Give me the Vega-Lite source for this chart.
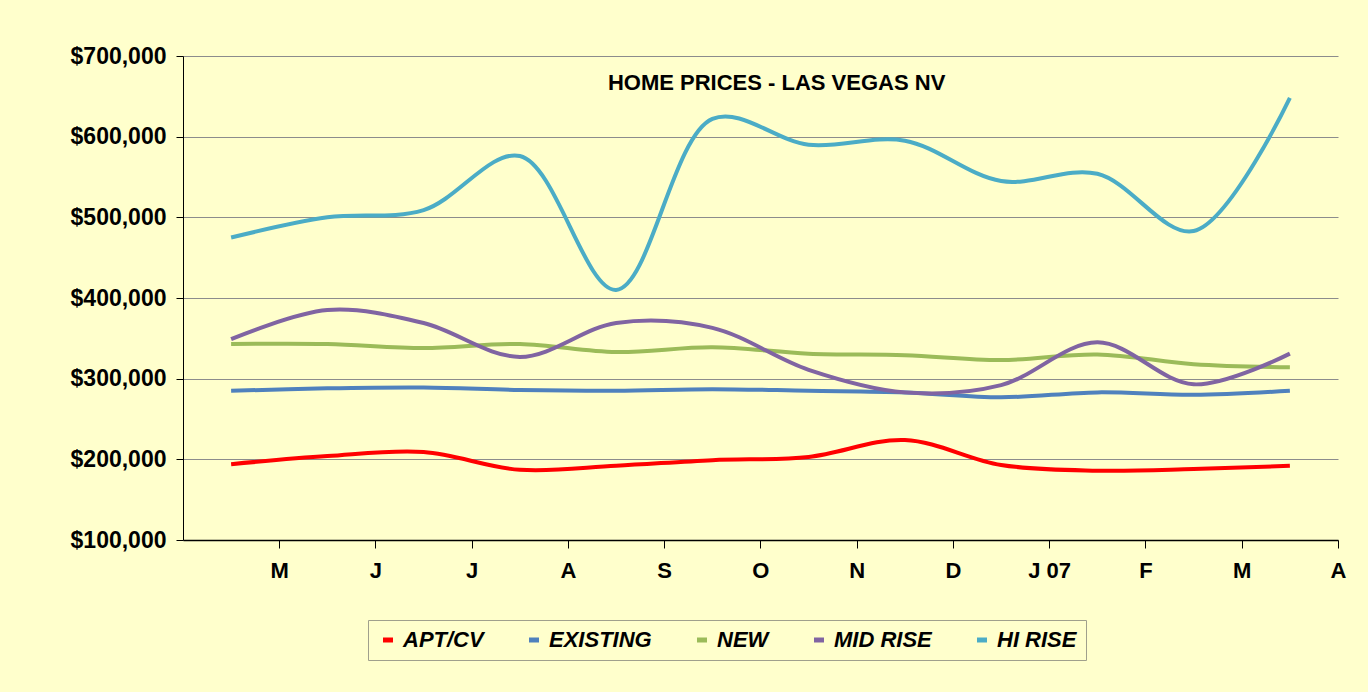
{
  "$schema": "https://vega.github.io/schema/vega-lite/v6.json",
  "width": 1155,
  "height": 484,
  "autosize": {"type": "none"},
  "padding": {"left": 183, "top": 56, "right": 30, "bottom": 152},
  "background": "#FFFFCC",
  "data": {
    "values": [
      {"month": "2006-05", "series": "APT/CV", "price": 194000},
      {"month": "2006-06", "series": "APT/CV", "price": 204000},
      {"month": "2006-07", "series": "APT/CV", "price": 209000},
      {"month": "2006-08", "series": "APT/CV", "price": 187000},
      {"month": "2006-09", "series": "APT/CV", "price": 192000},
      {"month": "2006-10", "series": "APT/CV", "price": 199000},
      {"month": "2006-11", "series": "APT/CV", "price": 203000},
      {"month": "2006-12", "series": "APT/CV", "price": 224000},
      {"month": "2007-01", "series": "APT/CV", "price": 193000},
      {"month": "2007-02", "series": "APT/CV", "price": 186000},
      {"month": "2007-03", "series": "APT/CV", "price": 188000},
      {"month": "2007-04", "series": "APT/CV", "price": 192000},
      {"month": "2006-05", "series": "EXISTING", "price": 285000},
      {"month": "2006-06", "series": "EXISTING", "price": 288000},
      {"month": "2006-07", "series": "EXISTING", "price": 289000},
      {"month": "2006-08", "series": "EXISTING", "price": 286000},
      {"month": "2006-09", "series": "EXISTING", "price": 285000},
      {"month": "2006-10", "series": "EXISTING", "price": 287000},
      {"month": "2006-11", "series": "EXISTING", "price": 285000},
      {"month": "2006-12", "series": "EXISTING", "price": 283000},
      {"month": "2007-01", "series": "EXISTING", "price": 277000},
      {"month": "2007-02", "series": "EXISTING", "price": 283000},
      {"month": "2007-03", "series": "EXISTING", "price": 280000},
      {"month": "2007-04", "series": "EXISTING", "price": 285000},
      {"month": "2006-05", "series": "NEW", "price": 343000},
      {"month": "2006-06", "series": "NEW", "price": 343000},
      {"month": "2006-07", "series": "NEW", "price": 338000},
      {"month": "2006-08", "series": "NEW", "price": 343000},
      {"month": "2006-09", "series": "NEW", "price": 333000},
      {"month": "2006-10", "series": "NEW", "price": 339000},
      {"month": "2006-11", "series": "NEW", "price": 331000},
      {"month": "2006-12", "series": "NEW", "price": 329000},
      {"month": "2007-01", "series": "NEW", "price": 323000},
      {"month": "2007-02", "series": "NEW", "price": 330000},
      {"month": "2007-03", "series": "NEW", "price": 318000},
      {"month": "2007-04", "series": "NEW", "price": 314000},
      {"month": "2006-05", "series": "MID RISE", "price": 349000},
      {"month": "2006-06", "series": "MID RISE", "price": 385000},
      {"month": "2006-07", "series": "MID RISE", "price": 369000},
      {"month": "2006-08", "series": "MID RISE", "price": 327000},
      {"month": "2006-09", "series": "MID RISE", "price": 369000},
      {"month": "2006-10", "series": "MID RISE", "price": 363000},
      {"month": "2006-11", "series": "MID RISE", "price": 311000},
      {"month": "2006-12", "series": "MID RISE", "price": 283000},
      {"month": "2007-01", "series": "MID RISE", "price": 292000},
      {"month": "2007-02", "series": "MID RISE", "price": 345000},
      {"month": "2007-03", "series": "MID RISE", "price": 293000},
      {"month": "2007-04", "series": "MID RISE", "price": 331000},
      {"month": "2006-05", "series": "HI RISE", "price": 475000},
      {"month": "2006-06", "series": "HI RISE", "price": 500000},
      {"month": "2006-07", "series": "HI RISE", "price": 509000},
      {"month": "2006-08", "series": "HI RISE", "price": 576000},
      {"month": "2006-09", "series": "HI RISE", "price": 410000},
      {"month": "2006-10", "series": "HI RISE", "price": 622000},
      {"month": "2006-11", "series": "HI RISE", "price": 590000},
      {"month": "2006-12", "series": "HI RISE", "price": 595000},
      {"month": "2007-01", "series": "HI RISE", "price": 545000},
      {"month": "2007-02", "series": "HI RISE", "price": 554000},
      {"month": "2007-03", "series": "HI RISE", "price": 483000},
      {"month": "2007-04", "series": "HI RISE", "price": 648000}
    ]
  },
  "layer": [
    {
      "mark": {"type": "line", "interpolate": "catmull-rom", "strokeWidth": 4},
      "encoding": {
        "x": {
          "field": "month",
          "type": "ordinal",
          "scale": {"type": "point", "padding": 0.5},
          "axis": {
            "title": null,
            "labelExpr": "datum.value == '2007-01' ? 'J 07' : ['J','F','M','A','M','J','J','A','S','O','N','D'][toNumber(slice(datum.value, 5, 7)) - 1]",
            "labelAngle": 0,
            "labelFont": "Liberation Sans",
            "labelFontSize": 22,
            "labelFontWeight": "bold",
            "labelColor": "#000000",
            "labelPadding": 12,
            "tickOffset": 48,
            "tickSize": 8,
            "tickColor": "#000000",
            "domainColor": "#000000",
            "domainWidth": 1.5,
            "grid": false
          }
        },
        "y": {
          "field": "price",
          "type": "quantitative",
          "scale": {"domain": [100000, 700000], "nice": false, "zero": false},
          "axis": {
            "title": null,
            "values": [100000, 200000, 300000, 400000, 500000, 600000, 700000],
            "format": "$,.0f",
            "labelFont": "Liberation Sans",
            "labelFontSize": 23,
            "labelFontWeight": "bold",
            "labelColor": "#000000",
            "labelPadding": 10,
            "tickSize": 7,
            "tickColor": "#000000",
            "domainColor": "#000000",
            "domainWidth": 1,
            "grid": true,
            "gridColor": "#8C8C8C",
            "gridWidth": 1
          }
        },
        "color": {
          "field": "series",
          "type": "nominal",
          "scale": {
            "domain": ["APT/CV", "EXISTING", "NEW", "MID RISE", "HI RISE"],
            "range": ["#FF0000", "#4F81BD", "#9BBB59", "#8064A2", "#4BACC6"]
          },
          "legend": {
            "title": null,
            "orient": "none",
            "legendX": 185,
            "legendY": 564,
            "direction": "horizontal",
            "columns": 5,
            "columnPadding": 35,
            "symbolType": "stroke",
            "symbolStrokeWidth": 5,
            "labelFont": "Liberation Sans",
            "labelFontSize": 22,
            "labelFontWeight": "bold",
            "labelFontStyle": "italic",
            "labelColor": "#000000",
            "padding": 9,
            "strokeColor": "#A0A08C",
            "fillColor": "#FFFFCC"
          }
        }
      }
    },
    {
      "data": {"values": [{"label": "HOME PRICES - LAS VEGAS NV"}]},
      "mark": {
        "type": "text",
        "font": "Liberation Sans",
        "fontSize": 22,
        "fontWeight": "bold",
        "color": "#000000",
        "align": "center",
        "baseline": "alphabetic",
        "dx": -32
      },
      "encoding": {
        "x": {"datum": "2006-11", "type": "ordinal"},
        "y": {"datum": 658000, "type": "quantitative"},
        "text": {"field": "label", "type": "nominal"}
      }
    }
  ],
  "config": {
    "view": {"stroke": null},
    "axis": {"labelOverlap": false}
  }
}
